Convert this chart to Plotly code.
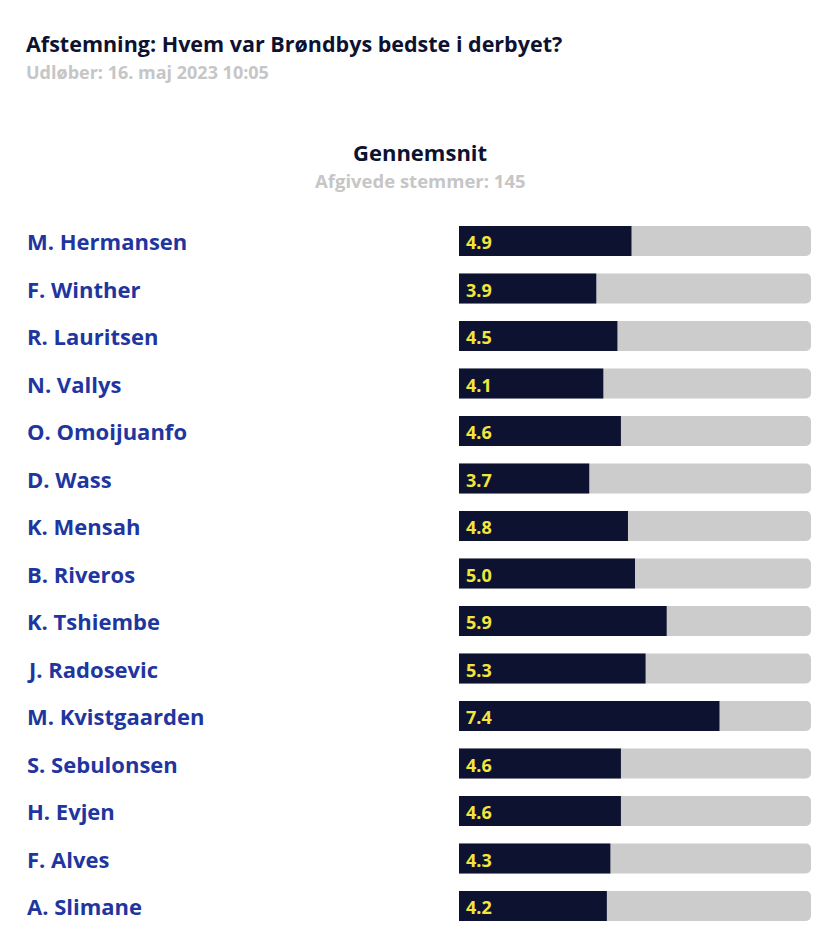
import plotly.graph_objects as go

players = ["M. Hermansen", "F. Winther", "R. Lauritsen", "N. Vallys", "O. Omoijuanfo",
           "D. Wass", "K. Mensah", "B. Riveros", "K. Tshiembe", "J. Radosevic",
           "M. Kvistgaarden", "S. Sebulonsen", "H. Evjen", "F. Alves", "A. Slimane"]
ratings = [4.9, 3.9, 4.5, 4.1, 4.6, 3.7, 4.8, 5.0, 5.9, 5.3, 7.4, 4.6, 4.6, 4.3, 4.2]
scale_max = 10

title_text = "Afstemning: Hvem var Brøndbys bedste i derbyet?"
subtitle_text = "Udløber: 16. maj 2023 10:05"
header_text = "Gennemsnit"
votes_text = "Afgivede stemmer: 145"

FONT = "Open Sans"
NAVY = "#0c1230"
BLUE = "#1f36a0"
GREY_TXT = "#c6c6c6"
YELLOW = "#f2e53c"

W, H = 838, 950
rows = list(range(len(players)))

fig = go.Figure()
fig.add_trace(go.Bar(
    y=rows, x=[scale_max] * len(players), orientation="h",
    marker=dict(color="#cccccc", cornerradius=5, line=dict(width=0)),
    width=0.63, hoverinfo="skip", showlegend=False))
fig.add_trace(go.Bar(
    y=rows, x=ratings, orientation="h",
    marker=dict(color=NAVY, cornerradius=4, line=dict(width=0)),
    width=0.63, showlegend=False))

annotations = []
for i, (p, r) in enumerate(zip(players, ratings)):
    annotations.append(dict(x=28 / W, xref="paper", y=i, yref="y", text=p,
                            showarrow=False, xanchor="left", yanchor="middle",
                            xshift=-3,
                            font=dict(family=FONT, size=22, color=BLUE, weight="bold")))
    annotations.append(dict(x=0, xref="x", y=i, yref="y", text=f"{r:.1f}",
                            showarrow=False, xanchor="left", yanchor="middle",
                            xshift=5, yshift=-1,
                            font=dict(family=FONT, size=18, color=YELLOW, weight="bold")))

annotations += [
    dict(x=28 / W, y=1 - 44 / H, xref="paper", yref="paper", text=title_text,
         showarrow=False, xanchor="left", yanchor="middle", xshift=-3, borderpad=0,
         font=dict(family=FONT, size=21.5, color=NAVY, weight="bold")),
    dict(x=28 / W, y=1 - 72 / H, xref="paper", yref="paper", text=subtitle_text,
         showarrow=False, xanchor="left", yanchor="middle", xshift=-3, borderpad=0,
         font=dict(family=FONT, size=18, color=GREY_TXT, weight="bold")),
    dict(x=420 / W, y=1 - 152 / H, xref="paper", yref="paper", text=header_text,
         showarrow=False, xanchor="center", yanchor="middle",
         font=dict(family=FONT, size=22, color=NAVY, weight="bold")),
    dict(x=420 / W, y=1 - 180 / H, xref="paper", yref="paper", text=votes_text,
         showarrow=False, xanchor="center", yanchor="middle",
         font=dict(family=FONT, size=18.5, color=GREY_TXT, weight="bold")),
]

row_px = 47.5
first_px = 241
top_val = -first_px / row_px
bot_val = top_val + H / row_px

fig.update_layout(
    width=W, height=H,
    margin=dict(l=0, r=0, t=0, b=0),
    paper_bgcolor="white", plot_bgcolor="white",
    barmode="overlay",
    xaxis=dict(domain=[459 / W, 811 / W], range=[0, scale_max], visible=False, fixedrange=True),
    yaxis=dict(domain=[0, 1], range=[bot_val, top_val], visible=False, fixedrange=True),
    annotations=annotations,
    font=dict(family=FONT),
)

fig.write_html("out.html")
